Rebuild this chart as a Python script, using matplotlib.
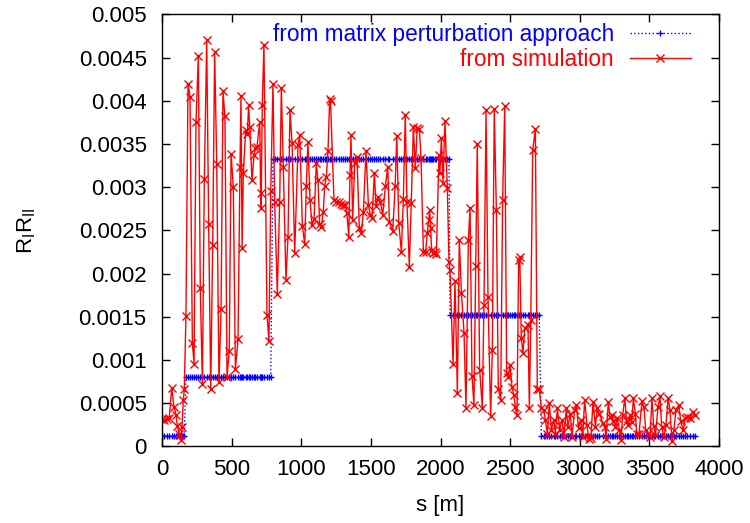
import numpy as np
import matplotlib
matplotlib.use("Agg")
import matplotlib.pyplot as plt

# positions along the line [m] and simulated R_I R_II
s_pos = [0, 14, 34, 52, 70, 86, 100, 110, 124, 134, 144, 153, 160, 172, 187, 201, 218, 230,
         244, 261, 275, 290, 304, 321, 335, 350, 364, 378, 393, 409, 424, 438, 452, 467, 483,
         496, 512, 527, 546, 560, 567, 575, 584, 601, 613, 622, 630, 646, 661, 670, 682, 702,
         709, 713, 720, 732, 754, 768, 781, 797, 809, 828, 845, 857, 871, 890, 905, 919, 934,
         953, 977, 989, 1008, 1025, 1036, 1048, 1063, 1077, 1092, 1108, 1120, 1132, 1144, 1158,
         1168, 1180, 1192, 1204, 1210, 1235, 1252, 1269, 1285, 1302, 1316, 1328, 1341, 1350,
         1357, 1369, 1384, 1400, 1417, 1431, 1446, 1465, 1482, 1496, 1508, 1525, 1537, 1553,
         1568, 1585, 1604, 1621, 1633, 1657, 1674, 1686, 1700, 1719, 1733, 1747, 1759, 1776,
         1790, 1805, 1819, 1833, 1848, 1860, 1877, 1893, 1905, 1915, 1922, 1929, 1936, 1948,
         1960, 1970, 1989, 1996, 2006, 2018, 2032, 2049, 2061, 2068, 2090, 2104, 2121, 2135,
         2150, 2169, 2183, 2200, 2212, 2226, 2240, 2253, 2264, 2281, 2300, 2312, 2327, 2341,
         2360, 2372, 2386, 2401, 2415, 2432, 2446, 2461, 2475, 2487, 2499, 2513, 2526, 2537,
         2549, 2561, 2569, 2580, 2592, 2605, 2628, 2638, 2648, 2662, 2681, 2695, 2709, 2724,
         2741, 2753, 2767, 2781, 2796, 2813, 2825, 2839, 2856, 2873, 2887, 2903, 2915, 2932,
         2944, 2963, 2975, 2992, 3007, 3021, 3035, 3052, 3064, 3080, 3095, 3112, 3127, 3141,
         3165, 3181, 3188, 3205, 3217, 3232, 3241, 3256, 3270, 3284, 3296, 3308, 3323, 3337,
         3349, 3361, 3373, 3385, 3399, 3409, 3425, 3447, 3461, 3473, 3490, 3504, 3519, 3530,
         3543, 3562, 3576, 3588, 3605, 3619, 3634, 3648, 3662, 3676, 3691, 3711, 3725, 3743,
         3758, 3772, 3792, 3811, 3828]

sim_vals = [0.000315, 0.00031, 0.00032, 0.00033, 0.00068, 0.00046, 0.00037, 0.00024, 0.00015,
            0.00007, 0.00022, 0.00054, 0.00066, 0.00151, 0.0042, 0.00405, 0.0012, 0.00096,
            0.00376, 0.00452, 0.00183, 0.00072, 0.0031, 0.0047, 0.00258, 0.00067, 0.00233,
            0.00457, 0.00327, 0.00075, 0.00159, 0.00411, 0.00382, 0.00081, 0.00111, 0.00339,
            0.003, 0.0009, 0.00124, 0.00323, 0.00406, 0.0023, 0.00317, 0.00366, 0.00362,
            0.00395, 0.0037, 0.00308, 0.00337, 0.00345, 0.00347, 0.00376, 0.00276, 0.00293,
            0.00395, 0.00465, 0.00152, 0.00122, 0.00296, 0.0042, 0.00283, 0.00177, 0.00283,
            0.00415, 0.00324, 0.00193, 0.00243, 0.00389, 0.00351, 0.00224, 0.00349, 0.0036,
            0.00255, 0.00234, 0.00301, 0.00352, 0.00285, 0.00256, 0.00263, 0.00328, 0.00308,
            0.00258, 0.00254, 0.00271, 0.00301, 0.00312, 0.00342, 0.00402, 0.004, 0.00285,
            0.00283, 0.00283, 0.00281, 0.0028, 0.0028, 0.0027, 0.00243, 0.00314, 0.0036,
            0.00262, 0.00328, 0.00335, 0.00253, 0.00247, 0.00271, 0.00342, 0.0028, 0.00268,
            0.00264, 0.00316, 0.00278, 0.00289, 0.00283, 0.00268, 0.00301, 0.00324, 0.0026,
            0.00249, 0.00301, 0.00359, 0.00259, 0.00225, 0.00287, 0.00384, 0.00283, 0.00208,
            0.00282, 0.0037, 0.00322, 0.00369, 0.00368, 0.00334, 0.00225, 0.00225, 0.00247,
            0.00262, 0.00274, 0.00253, 0.00227, 0.00224, 0.00225, 0.00223, 0.00337, 0.00317,
            0.00357, 0.00305, 0.00377, 0.00299, 0.00213, 0.00204, 0.00096, 0.00191, 0.00062,
            0.00239, 0.00178, 0.00131, 0.00045, 0.00239, 0.00276, 0.00082, 0.00048, 0.00209,
            0.0035, 0.00089, 0.00045, 0.00164, 0.00389, 0.00173, 0.00035, 0.00112, 0.00391,
            0.00274, 0.00067, 0.00054, 0.00285, 0.00394, 0.00085, 0.0008, 0.00094, 0.00069,
            0.0006, 0.00046, 0.00036, 0.00216, 0.00219, 0.00125, 0.00108, 0.00137, 0.00141,
            0.00044, 0.00146, 0.00343, 0.00367, 0.00067, 0.00066, 0.00044, 0.00042, 0.00031,
            0.00015, 0.0005, 0.00019, 0.00031, 0.00015, 0.00044, 0.00019, 0.00031, 0.00011,
            0.00044, 0.00023, 0.00038, 0.00011, 0.00042, 0.00048, 0.00021, 0.00031, 0.00011,
            0.00054, 0.00025, 0.00009, 0.0001, 0.00052, 0.00023, 0.00044, 0.00038, 0.00027,
            0.00023, 0.00009, 0.00052, 0.00034, 0.00036, 0.00029, 0.00023, 0.00033, 0.00019,
            0.00008, 0.00036, 0.00056, 0.00029, 0.00025, 0.00036, 0.00028, 0.00056, 0.00038,
            0.00015, 0.00014, 0.00053, 0.00046, 0.00019, 0.00015, 0.00011, 0.00056, 0.00024,
            0.00013, 0.00046, 0.00058, 0.00023, 0.00011, 0.00025, 0.00056, 0.00042, 0.00006,
            0.00019, 0.00042, 0.00048, 0.00029, 0.00019, 0.00033, 0.00034, 0.00033, 0.0004,
            0.00036]

# matrix perturbation result: piecewise constant, steps between these positions
step_edges = [166, 790, 2064, 2716]
step_levels = [0.00012, 0.0008, 0.00333, 0.00152, 0.00012]

s_arr = np.array(s_pos)
matrix_vals = np.array(step_levels)[np.searchsorted(step_edges, s_arr)]

plt.rcParams["font.family"] = ["Liberation Sans", "DejaVu Sans"]
plt.rcParams["mathtext.fontset"] = "custom"
plt.rcParams["mathtext.rm"] = "Liberation Sans"
plt.rcParams["mathtext.it"] = "Liberation Sans:italic"

fig = plt.figure(figsize=(7.5, 5.23), dpi=100)
ax = fig.add_axes([0.216, 0.1463, 0.7427, 0.826])

ax.plot(s_arr, matrix_vals, color="blue", ls=":", lw=1, marker="+", ms=5, mew=1,
        label="from matrix perturbation approach")
ax.plot(s_arr, sim_vals, color="red", lw=1, marker="x", ms=6, mew=1,
        label="from simulation")

ax.set_xlim(0, 4000)
ax.set_ylim(0, 0.005)
ax.set_xticks(np.arange(0, 4001, 500))
ax.set_yticks(np.arange(0, 0.00501, 0.0005))
ax.set_yticklabels(["0", "0.0005", "0.001", "0.0015", "0.002", "0.0025",
                    "0.003", "0.0035", "0.004", "0.0045", "0.005"])
ax.tick_params(direction="in", top=True, right=True, length=6, width=1, labelsize=16)
ax.tick_params(axis="y", pad=11)
ax.tick_params(axis="x", pad=9)
for sp in ax.spines.values():
    sp.set_linewidth(1)

ax.set_xlabel("s [m]", fontsize=16)
ax.set_ylabel(r"R$_\mathrm{I}$R$_\mathrm{II}$", fontsize=16)
ax.xaxis.set_label_coords(0.5, -0.113)
ax.yaxis.set_label_coords(-0.222, 0.5)

ax.legend(loc="upper right", frameon=False, markerfirst=False, numpoints=1,
          handlelength=2.7, fontsize=16.3, labelcolor="linecolor",
          bbox_to_anchor=(0.986, 1.028), labelspacing=0.08, handletextpad=0.7)

fig.savefig("out.png", dpi=100)
